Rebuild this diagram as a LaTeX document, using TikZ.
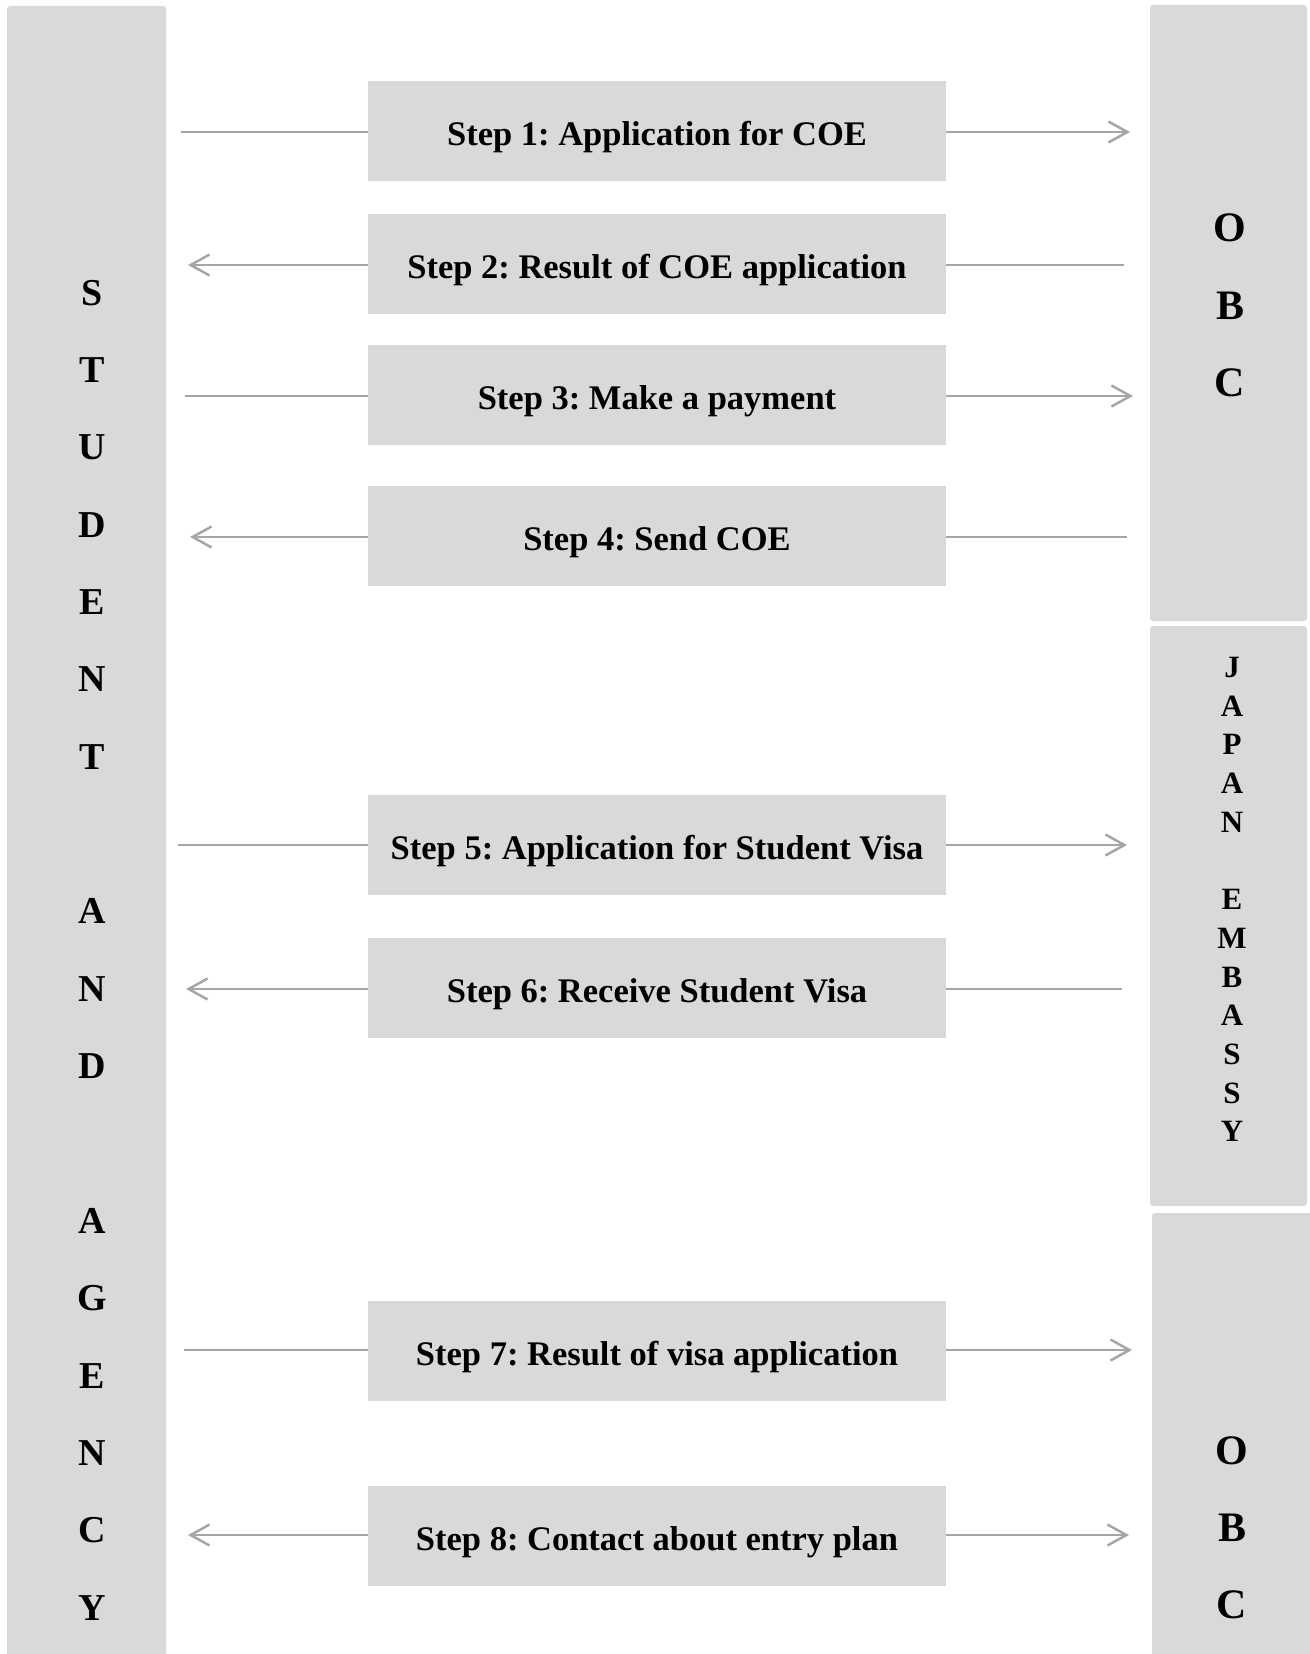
\documentclass[tikz,border=0pt]{standalone}
\usepackage{fontspec}
\setmainfont{Liberation Serif}
\usetikzlibrary{arrows.meta}
\definecolor{boxgray}{HTML}{D9D9D9}
\definecolor{linegray}{HTML}{A6A6A6}
\begin{document}
\frenchspacing
\begin{tikzpicture}[x=1pt,y=-1pt,
  stepbox/.style={fill=boxgray, minimum width=578pt, minimum height=100pt, inner sep=0pt,
    text height=29pt, text depth=0pt,
    font=\fontsize{34.5}{40}\selectfont\bfseries},
  sidebox/.style={fill=boxgray, rounded corners=3pt, inner sep=0pt},
  sidetext/.style={align=center, inner sep=0pt},
  conn/.style={draw=linegray, line width=2.5pt},
  tip/.style={-{Straight Barb[length=19pt,width=21pt]}}
]
\useasboundingbox (0,0) rectangle (1309,1654);

% side boxes
\node[sidebox, minimum width=159pt, minimum height=1664pt] (student) at (86.5,838) {};
\node[sidebox, minimum width=157pt, minimum height=616pt] (obctop) at (1228.5,313) {};
\node[sidebox, minimum width=157pt, minimum height=580pt] (embassy) at (1228.5,916) {};
\node[sidebox, minimum width=163pt, minimum height=457pt] (obcbot) at (1233.5,1441.5) {};

% side texts
\node[sidetext, font=\fontsize{38}{77.35}\selectfont\bfseries] (studentlbl) at (92,950)
  {S\\T\\U\\D\\E\\N\\T\\{}\\A\\N\\D\\{}\\A\\G\\E\\N\\C\\Y};
\node[sidetext, font=\fontsize{42}{77.5}\selectfont\bfseries] (obctoplbl) at (1230,305.5)
  {O\\B\\C};
\node[sidetext, font=\fontsize{31}{38.7}\selectfont\bfseries] (embassylbl) at (1232,899.5)
  {J\\A\\P\\A\\N\\{}\\E\\M\\B\\A\\S\\S\\Y};
\node[sidetext, font=\fontsize{42}{77}\selectfont\bfseries] (obcbotlbl) at (1232,1527.5)
  {O\\B\\C};

% step boxes
\node[stepbox] (s1) at (657,131) {Step 1: Application for COE};
\node[stepbox] (s2) at (657,264) {Step 2: Result of COE application};
\node[stepbox] (s3) at (657,395) {Step 3: Make a payment};
\node[stepbox] (s4) at (657,536) {Step 4: Send COE};
\node[stepbox] (s5) at (657,845) {Step 5: Application for Student Visa};
\node[stepbox] (s6) at (657,988) {Step 6: Receive Student Visa};
\node[stepbox] (s7) at (657,1351) {Step 7: Result of visa application};
\node[stepbox] (s8) at (657,1536) {Step 8: Contact about entry plan};

% connector ends
\coordinate (l1) at (181,132);  \coordinate (r1) at (1130,132);
\coordinate (l2) at (188,265);  \coordinate (r2) at (1124,265);
\coordinate (l3) at (185,396);  \coordinate (r3) at (1133,396);
\coordinate (l4) at (190,537);  \coordinate (r4) at (1127,537);
\coordinate (l5) at (178,845);  \coordinate (r5) at (1127,845);
\coordinate (l6) at (186,989);  \coordinate (r6) at (1122,989);
\coordinate (l7) at (184,1350); \coordinate (r7) at (1132,1350);
\coordinate (l8) at (188,1535); \coordinate (r8) at (1129,1535);

% connectors
\draw[conn] (l1) -- (l1 -| s1.west);  \draw[conn,tip] (r1 -| s1.east) -- (r1);
\draw[conn,tip] (l2 -| s2.west) -- (l2);  \draw[conn] (r2 -| s2.east) -- (r2);
\draw[conn] (l3) -- (l3 -| s3.west);  \draw[conn,tip] (r3 -| s3.east) -- (r3);
\draw[conn,tip] (l4 -| s4.west) -- (l4);  \draw[conn] (r4 -| s4.east) -- (r4);
\draw[conn] (l5) -- (l5 -| s5.west);  \draw[conn,tip] (r5 -| s5.east) -- (r5);
\draw[conn,tip] (l6 -| s6.west) -- (l6);  \draw[conn] (r6 -| s6.east) -- (r6);
\draw[conn] (l7) -- (l7 -| s7.west);  \draw[conn,tip] (r7 -| s7.east) -- (r7);
\draw[conn,tip] (l8 -| s8.west) -- (l8);  \draw[conn,tip] (r8 -| s8.east) -- (r8);
\end{tikzpicture}
\end{document}
